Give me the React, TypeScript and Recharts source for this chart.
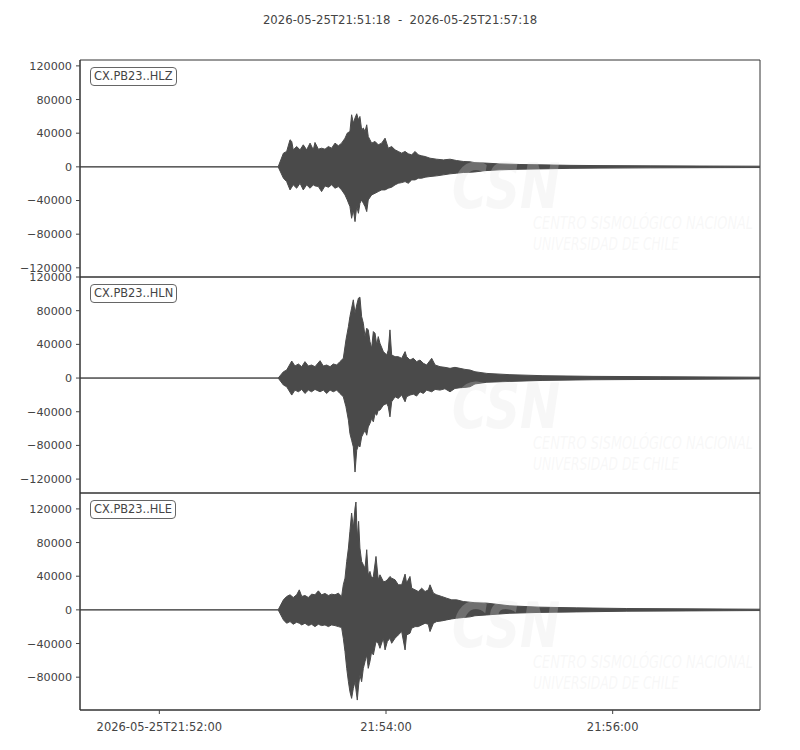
import React from 'react';
import { AreaChart, Area, XAxis, YAxis, ReferenceArea } from 'recharts';

// times are seconds after 2026-05-25T21:51:18
const TITLE = '2026-05-25T21:51:18  -  2026-05-25T21:57:18';
const CHANNELS = ['CX.PB23..HLZ', 'CX.PB23..HLN', 'CX.PB23..HLE'];
const X_TICKS = [42, 162, 282];
const X_TICK_LABELS = ['2026-05-25T21:52:00', '21:54:00', '21:56:00'];

// upper / lower envelope of each trace (counts)
const HLZ_T = [0, 104.9, 107.7, 109.4, 111.2, 112.1, 112.9, 114.7, 116.5, 118.2, 120.0, 121.8, 123.5, 124.4, 126.2, 127.9, 129.7, 131.5, 133.2, 135.0, 136.8, 138.5, 140.3, 141.5, 142.9, 143.8, 144.7, 145.6, 146.5, 147.4, 148.2, 149.1, 150.0, 150.9, 151.8, 152.6, 154.4, 156.2, 157.9, 159.7, 161.5, 163.2, 165.0, 166.8, 168.5, 170.3, 172.1, 173.8, 175.6, 177.4, 179.1, 180.9, 182.7, 185.3, 188.8, 192.4, 195.9, 199.4, 202.9, 206.5, 209.1, 214.4, 222.3, 232.9, 243.5, 259.4, 275.3, 301.8, 328.2, 360];
const HLZ_HI = [0, 0, 16300, 18300, 32200, 30200, 20200, 24200, 20200, 26200, 20200, 28200, 20200, 29000, 21000, 22200, 21000, 24200, 22200, 28200, 25000, 28200, 34100, 40100, 42100, 61900, 52000, 58000, 63100, 56000, 59900, 44100, 46100, 42100, 50000, 36100, 28200, 30200, 26200, 28200, 34100, 22200, 24200, 20200, 18300, 16300, 18300, 15500, 14300, 18300, 14300, 13100, 12300, 10300, 9100, 8300, 9100, 7500, 6400, 6000, 5000, 4500, 3500, 2800, 2400, 1800, 1500, 1200, 1000, 800];
const HLZ_LO = [0, 0, -13500, -17500, -27400, -24200, -21400, -25400, -19500, -27400, -21400, -25400, -21400, -22600, -23400, -29400, -22600, -24200, -21400, -25400, -23400, -27400, -33300, -39300, -47200, -61100, -51200, -65100, -47200, -55200, -43300, -39300, -43300, -47200, -53200, -39300, -33300, -31400, -29400, -27400, -27400, -25400, -24200, -21400, -19500, -18700, -17500, -19500, -15500, -15500, -13500, -13500, -12300, -11500, -10700, -9500, -8300, -7500, -6700, -6400, -6000, -4500, -3500, -2800, -2400, -1800, -1500, -1200, -1000, -800];

const HLN_T = [0, 104.9, 107.7, 109.4, 112.1, 113.8, 115.6, 117.4, 119.1, 120.9, 122.6, 124.4, 127.1, 128.8, 130.6, 132.4, 134.1, 135.9, 137.6, 139.4, 140.8, 142.1, 142.9, 143.8, 144.7, 145.6, 146.5, 147.4, 148.2, 149.1, 150.0, 150.9, 151.8, 152.6, 153.5, 154.4, 155.3, 156.2, 157.1, 157.9, 158.8, 160.6, 162.4, 163.2, 164.1, 165.0, 166.8, 168.5, 170.3, 172.1, 172.9, 174.7, 176.5, 178.2, 180.0, 181.8, 183.5, 186.2, 188.0, 190.6, 193.2, 195.9, 198.5, 201.2, 203.8, 206.5, 209.1, 215.4, 227.6, 245.1, 271.6, 307.1, 360];
const HLN_HI = [0, 0, 7500, 9500, 20200, 14300, 16700, 13500, 19500, 14300, 15500, 13500, 20600, 14300, 15500, 13500, 16700, 15500, 19500, 23400, 45300, 61100, 73000, 83000, 92900, 77000, 86900, 94900, 96100, 73000, 65100, 49200, 59200, 57200, 43300, 35300, 55200, 53200, 39300, 49200, 41300, 31400, 27400, 33300, 57200, 27400, 25400, 25400, 23400, 31400, 25400, 21400, 23400, 19500, 21400, 17500, 15500, 23400, 15500, 13500, 12700, 11500, 12700, 11500, 10300, 9500, 7500, 5500, 4000, 2800, 2000, 1600, 1000];
const HLN_LO = [0, 0, -8300, -10300, -20200, -14300, -16300, -13500, -18300, -14300, -16300, -13500, -16300, -14300, -18300, -14300, -16300, -14300, -18300, -22200, -34100, -50000, -65900, -73800, -81800, -111600, -85800, -79800, -81800, -69900, -65900, -61900, -67900, -58000, -54000, -48000, -52000, -42100, -44100, -38100, -38100, -32200, -30200, -34100, -46100, -28200, -22200, -24200, -20200, -28200, -22200, -20200, -19100, -21400, -16300, -18300, -14300, -16300, -13500, -14300, -12700, -16300, -12300, -11500, -11100, -10300, -7000, -5000, -4000, -2800, -2000, -1600, -1000];

const HLE_T = [0, 104.9, 107.7, 109.4, 111.2, 112.9, 114.7, 116.1, 117.4, 119.1, 120.9, 122.6, 124.4, 126.2, 127.9, 129.7, 131.5, 133.2, 135.0, 136.8, 138.5, 139.4, 140.3, 141.2, 142.1, 142.9, 143.8, 144.7, 145.6, 146.1, 146.8, 147.5, 148.2, 149.1, 150.0, 150.9, 151.8, 152.6, 153.5, 154.4, 155.3, 156.7, 157.9, 158.8, 160.6, 161.5, 162.7, 164.1, 165.0, 166.8, 168.5, 170.3, 172.1, 172.9, 174.7, 175.6, 177.4, 179.1, 180.9, 182.7, 184.4, 185.3, 187.1, 188.8, 191.5, 194.1, 196.8, 199.4, 202.9, 206.5, 209.1, 215.4, 227.6, 243.5, 263.0, 289.5, 324.0, 360];
const HLE_HI = [0, 0, 11900, 15900, 17900, 14700, 17900, 23800, 15900, 17100, 14700, 18700, 17900, 22600, 17900, 19500, 17100, 18700, 17900, 19900, 15900, 29800, 37700, 57600, 73400, 93300, 115100, 97300, 121100, 128200, 85400, 105200, 73400, 57600, 53600, 49600, 71500, 41700, 45700, 37700, 39700, 63500, 35700, 41700, 33700, 33700, 35700, 39700, 37700, 35700, 29800, 29800, 42500, 31800, 39700, 25800, 23800, 21800, 25800, 21800, 23800, 29800, 19900, 17900, 15900, 13900, 11900, 11900, 9900, 9100, 8500, 8000, 4800, 3200, 2400, 1600, 1200, 800];
const HLE_LO = [0, 0, -11900, -15900, -13900, -17100, -14700, -15900, -17900, -15900, -18700, -17100, -19900, -17100, -18700, -17900, -19900, -17900, -18700, -19900, -21000, -33700, -49600, -69500, -85400, -97300, -105200, -93300, -85400, -95000, -107200, -89300, -77400, -85400, -69500, -61500, -53600, -69500, -61500, -49600, -53600, -37700, -39700, -45700, -33700, -47600, -37700, -33700, -39700, -33700, -29800, -25800, -47600, -29800, -27800, -21800, -19900, -19900, -17900, -15900, -17100, -25800, -15900, -13900, -13100, -11900, -10700, -9900, -9100, -8300, -7000, -6000, -4000, -3000, -2400, -1600, -1200, -800];

const HLZ_Y_TICKS = [-120000, -80000, -40000, 0, 40000, 80000, 120000];
const HLN_Y_TICKS = [-120000, -80000, -40000, 0, 40000, 80000, 120000];
const HLE_Y_TICKS = [-80000, -40000, 0, 40000, 80000, 120000];

const HLZ_DOMAIN = [-130900, 127000];
const HLN_DOMAIN = [-136500, 120000];
const HLE_DOMAIN = [-119000, 138900];

const FONT = '"DejaVu Sans", sans-serif';
const INK = '#444444';
const TRACE = '#4a4a4a';

const toRows = (t: number[], hi: number[], lo: number[]) =>
  t.map((s, i) => ({ t: s, band: [lo[i], hi[i]] }));

const fmtY = (v: number) => (v < 0 ? '\u2212' + Math.abs(v) : String(v));
const fmtX = (v: number) => X_TICK_LABELS[X_TICKS.indexOf(v)] ?? '';

interface TraceProps {
  rows: { t: number; band: number[] }[];
  domain: number[];
  yTicks: number[];
  label: string;
  plotTop: number;
  plotH: number;
  showTime: boolean;
}

function Trace({ rows, domain, yTicks, label, plotTop, plotH, showTime }: TraceProps) {
  const axisH = showTime ? 30 : 0;
  const height = 10 + plotH + axisH + 10;
  return (
    <div style={{ position: 'absolute', left: 0, top: plotTop - 10 }}>
      <AreaChart
        width={800}
        height={height}
        data={rows}
        margin={{ top: 10, right: 40, bottom: 10, left: 0 }}
      >
        <XAxis
          dataKey="t"
          type="number"
          domain={[0, 360]}
          allowDataOverflow
          ticks={showTime ? X_TICKS : []}
          tickFormatter={fmtX}
          height={axisH}
          tick={showTime ? { fontSize: 11.5, fill: INK, fontFamily: FONT } : false}
          tickLine={showTime ? { stroke: INK } : false}
          tickSize={4}
          tickMargin={9}
          interval={0}
          axisLine={{ stroke: '#333' }}
        />
        <YAxis
          type="number"
          domain={domain}
          allowDataOverflow
          ticks={yTicks}
          interval={0}
          width={80}
          tickFormatter={fmtY}
          tick={{ fontSize: 11.2, fill: INK, fontFamily: FONT }}
          tickLine={{ stroke: INK }}
          tickSize={4}
          tickMargin={4}
          axisLine={{ stroke: '#333' }}
        />
        <ReferenceArea
          x1={0}
          x2={360}
          y1={domain[0]}
          y2={domain[1]}
          fill="none"
          stroke="#333"
          strokeWidth={1}
          ifOverflow="visible"
        />
        <Area
          type="linear"
          dataKey="band"
          stroke={TRACE}
          strokeWidth={1}
          fill={TRACE}
          fillOpacity={1}
          dot={false}
          activeDot={false}
          isAnimationActive={false}
        />
      </AreaChart>
      <div
        style={{
          position: 'absolute',
          left: 90,
          top: 17,
          border: '1px solid #666',
          borderRadius: 4,
          padding: '1px 3px',
          fontFamily: FONT,
          fontSize: 11.4,
          lineHeight: '15px',
          color: INK,
          background: '#fff',
        }}
      >
        {label}
      </div>
    </div>
  );
}

// faint CSN watermark drawn over each panel
function Watermark({ dy }: { dy: number }) {
  const c = 'rgba(225,225,225,0.25)';
  const narrow = '"Liberation Sans Narrow", "DejaVu Sans Condensed", sans-serif';
  return (
    <g transform={`translate(0, ${dy})`}>
      <text x={452} y={208} fontFamily={FONT} fontWeight="bold" fontStyle="italic" fontSize={62} fill={c} textLength={108} lengthAdjust="spacingAndGlyphs">
        CSN
      </text>
      <text x={533} y={229} fontFamily={narrow} fontStyle="italic" fontSize={17} fill={c} textLength={220} lengthAdjust="spacingAndGlyphs">
        CENTRO SISMOLÓGICO NACIONAL
      </text>
      <text x={533} y={250} fontFamily={narrow} fontStyle="italic" fontSize={17} fill={c} textLength={146} lengthAdjust="spacingAndGlyphs">
        UNIVERSIDAD DE CHILE
      </text>
    </g>
  );
}

export default function App() {
  return (
    <div style={{ position: 'absolute', left: 0, top: 0, width: 800, height: 750, background: '#fff' }}>
      <div
        style={{
          position: 'absolute',
          top: 13,
          width: 800,
          textAlign: 'center',
          fontFamily: FONT,
          fontSize: 11.7,
          color: INK,
          whiteSpace: 'pre',
        }}
      >
        {TITLE}
      </div>
      <Trace rows={toRows(HLZ_T, HLZ_HI, HLZ_LO)} domain={HLZ_DOMAIN} yTicks={HLZ_Y_TICKS} label={CHANNELS[0]} plotTop={60} plotH={217} showTime={false} />
      <Trace rows={toRows(HLN_T, HLN_HI, HLN_LO)} domain={HLN_DOMAIN} yTicks={HLN_Y_TICKS} label={CHANNELS[1]} plotTop={277} plotH={216} showTime={false} />
      <Trace rows={toRows(HLE_T, HLE_HI, HLE_LO)} domain={HLE_DOMAIN} yTicks={HLE_Y_TICKS} label={CHANNELS[2]} plotTop={493} plotH={217} showTime={true} />
      <svg width={800} height={750} style={{ position: 'absolute', left: 0, top: 0, pointerEvents: 'none' }}>
        <Watermark dy={0} />
        <Watermark dy={220} />
        <Watermark dy={439} />
      </svg>
    </div>
  );
}
